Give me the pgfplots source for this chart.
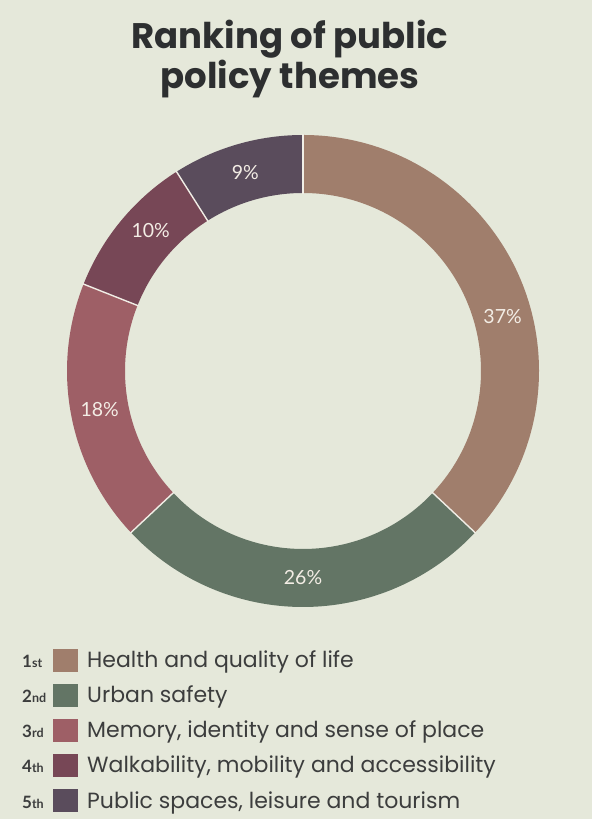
\documentclass[border=0pt]{standalone}
\usepackage{pgfplots}
\usepackage{pgfplotstable}
\pgfplotsset{compat=1.18}
\usepackage{fontspec}
\setmainfont{Lato}
\newfontfamily\titlefont{Poppins}
\newfontfamily\legfont{Poppins}

\definecolor{bg}{HTML}{E5E8DA}
\definecolor{cHealth}{HTML}{A07E6C}
\definecolor{cSafety}{HTML}{637565}
\definecolor{cMemory}{HTML}{9E5F66}
\definecolor{cWalk}{HTML}{774756}
\definecolor{cPublic}{HTML}{5A4C5C}
\definecolor{titlecol}{HTML}{2D2F30}
\definecolor{txt}{HTML}{3C3D3D}
\definecolor{sep}{HTML}{F1EEE6}
\definecolor{lab}{HTML}{F3EDE5}

% share of respondents per theme (ranked)
\pgfplotstableread[col sep=semicolon]{
value;color;rank;suf;shift;label
37;cHealth;1;st;-8;Health and quality of life
26;cSafety;2;nd;0;Urban safety
18;cMemory;3;rd;0;Memory, identity and sense of place
10;cWalk;4;th;-3;Walkability, mobility and accessibility
9;cPublic;5;th;0;Public spaces, leisure and tourism
}\slices

\begin{document}
\begin{tikzpicture}
\begin{axis}[
    scale only axis,
    width=592bp, height=819bp,
    xmin=0, xmax=592, ymin=0, ymax=819,
    hide axis, clip=false,
]
\pgfplotsextra{
  \fill[bg] (axis cs:0,0) rectangle (axis cs:592,819);
  % title
  \node[anchor=base, inner sep=0, text=titlecol,
        font=\titlefont\fontsize{35.5bp}{40bp}\selectfont\bfseries] at (axis cs:290,770) {Ranking of public};
  \node[anchor=base, inner sep=0, text=titlecol,
        font=\titlefont\fontsize{35.5bp}{40bp}\selectfont\bfseries] at (axis cs:290,730) {policy themes};
  % donut
  \xdef\cum{0}
  \foreach \i in {0,...,4}{
    \pgfplotstablegetelem{\i}{value}\of\slices \let\val\pgfplotsretval
    \pgfplotstablegetelem{\i}{color}\of\slices \let\col\pgfplotsretval
    \pgfplotstablegetelem{\i}{shift}\of\slices \let\shft\pgfplotsretval
    \pgfmathsetmacro\sa{90-3.6*\cum}
    \pgfmathsetmacro\ea{90-3.6*(\cum+\val)}
    \pgfmathsetmacro\ma{(\sa+\ea)/2+\shft}
    \fill[fill=\col]
      (axis cs:{303+236*cos(\sa)},{448+236*sin(\sa)})
      arc[start angle=\sa, end angle=\ea, radius=236bp]
      -- (axis cs:{303+178*cos(\ea)},{448+178*sin(\ea)})
      arc[start angle=\ea, end angle=\sa, radius=178bp] -- cycle;
    \node[text=lab, font=\fontsize{19.5bp}{22bp}\selectfont]
      at (axis cs:{303+207*cos(\ma)},{448+207*sin(\ma)}) {\val\%};
    \pgfmathsetmacro\nc{\cum+\val}
    \xdef\cum{\nc}
  }
  % separators
  \xdef\cum{0}
  \foreach \i in {0,...,4}{
    \pgfplotstablegetelem{\i}{value}\of\slices \let\val\pgfplotsretval
    \pgfmathsetmacro\sa{90-3.6*\cum}
    \draw[sep, line width=1.4bp]
      (axis cs:{303+177*cos(\sa)},{448+177*sin(\sa)})
      -- (axis cs:{303+237*cos(\sa)},{448+237*sin(\sa)});
    \pgfmathsetmacro\nc{\cum+\val}
    \xdef\cum{\nc}
  }
  % legend
  \foreach \i in {0,...,4}{
    \pgfplotstablegetelem{\i}{color}\of\slices \let\col\pgfplotsretval
    \pgfplotstablegetelem{\i}{rank}\of\slices \let\rk\pgfplotsretval
    \pgfplotstablegetelem{\i}{suf}\of\slices \let\sf\pgfplotsretval
    \pgfplotstablegetelem{\i}{label}\of\slices \let\lb\pgfplotsretval
    \pgfmathsetmacro\yc{158.5-35*\i}
    \fill[fill=\col] (axis cs:53,{\yc-11.5}) rectangle (axis cs:78,{\yc+11.5});
    \node[anchor=base west, inner sep=0, text=txt,
          font=\legfont\fontsize{22bp}{25bp}\selectfont] at (axis cs:87,{\yc-7.5}) {\lb};
    \node[anchor=base west, inner sep=0, text=txt] at (axis cs:22,{\yc-7.5})
      {\bfseries\fontsize{17bp}{19bp}\selectfont\rk\fontsize{12.5bp}{14bp}\selectfont\sf};
  }
}
\end{axis}
\end{tikzpicture}
\end{document}
